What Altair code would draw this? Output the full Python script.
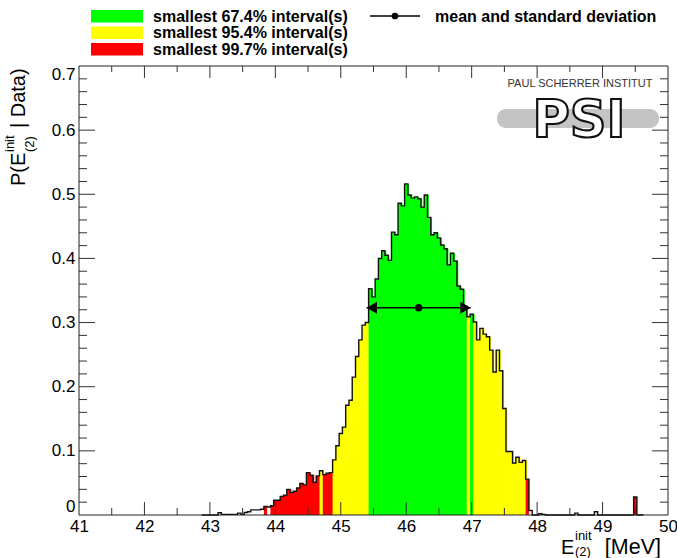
import altair as alt
import pandas as pd

FONT = "Liberation Sans"
INK = "#000000"
TICK_COLOR = "#333333"

# ---------------------------------------------------------------------------
# Marginalised posterior of E_init(2): density per 0.05 MeV bin,
# bin centres starting at 43.00 MeV
# ---------------------------------------------------------------------------
BIN_WIDTH = 0.05
FIRST_CENTER = 43.00
density = [
    0.000, 0.000, 0.000, 0.0035, 0.001, 0.001, 0.001, 0.001, 0.001, 0.003,    # 43.00-43.45
    0.001, 0.004, 0.005, 0.008, 0.008, 0.008, 0.009, 0.0135, 0.0125, 0.0145,  # 43.50-43.95
    0.023, 0.023, 0.029, 0.031, 0.040, 0.035, 0.037, 0.042, 0.049, 0.047,    # 44.00-44.45
    0.066, 0.062, 0.051, 0.061, 0.069, 0.063, 0.065, 0.066, 0.086, 0.108,    # 44.50-44.95
    0.127, 0.137, 0.171, 0.179, 0.215, 0.247, 0.273, 0.296, 0.300, 0.353,    # 45.00-45.45
    0.340, 0.368, 0.400, 0.412, 0.405, 0.397, 0.441, 0.437, 0.486, 0.482,    # 45.50-45.95
    0.516, 0.499, 0.494, 0.496, 0.493, 0.480, 0.499, 0.464, 0.437, 0.440,    # 46.00-46.45
    0.432, 0.421, 0.415, 0.390, 0.408, 0.396, 0.357, 0.352, 0.325, 0.309,    # 46.50-46.95
    0.313, 0.301, 0.273, 0.291, 0.282, 0.278, 0.257, 0.223, 0.257, 0.225,    # 47.00-47.45
    0.166, 0.099, 0.099, 0.081, 0.090, 0.082, 0.085, 0.056, 0.007, 0.000,    # 47.50-47.95
    0.000, 0.002, 0.001,                                                     # 48.00-48.10
]
# isolated entries further out in the upper tail
tail_centers = [48.60, 48.90, 49.50]
tail_density = [0.003, 0.005, 0.028]

# density levels that bound the smallest 67.4 / 95.4 / 99.7 % intervals
level_67 = 0.311
level_95 = 0.0675
level_99 = 0.013

interval_names = ["smallest 67.4% interval(s)", "smallest 95.4% interval(s)",
                  "smallest 99.7% interval(s)"]
interval_colors = ["#00ff00", "#ffff00", "#ff0000"]

# mean and standard deviation of the posterior
mean_E = 46.19
std_E = 0.795
arrow_level = 0.323

x_labels = [41, 42, 43, 44, 45, 46, 47, 48, 49, 50]
y_labels = [0.0, 0.1, 0.2, 0.3, 0.4, 0.5, 0.6, 0.7]

# ---------------------------------------------------------------------------
# Histogram table
# ---------------------------------------------------------------------------
lookup = {round(FIRST_CENTER + i * BIN_WIDTH, 2): v for i, v in enumerate(density)}
lookup.update(dict(zip(tail_centers, tail_density)))
n_grid = int(round((49.60 - 42.90) / BIN_WIDTH)) + 1
grid = [round(42.90 + i * BIN_WIDTH, 2) for i in range(n_grid)]

hist = pd.DataFrame({"center": grid})
hist["dens"] = [lookup.get(c, 0.0) for c in grid]
hist["lo"] = hist["center"] - BIN_WIDTH / 2
hist["hi"] = hist["center"] + BIN_WIDTH / 2


def interval_of(v):
    if v >= level_67:
        return interval_names[0]
    if v >= level_95:
        return interval_names[1]
    if v >= level_99:
        return interval_names[2]
    return "outside"


hist["interval"] = [interval_of(v) for v in hist["dens"]]
# a filled bin reaches slightly under its filled right neighbour (drawn
# afterwards), so the fill shows no anti-aliasing seams between bins
next_filled = list((hist["interval"] != "outside").iloc[1:]) + [False]
hist["hi_fill"] = [h + (0.02 if nf else 0.0) for h, nf in zip(hist["hi"], next_filled)]
filled = hist[hist["interval"] != "outside"]

outline = pd.DataFrame({
    "x": list(hist["lo"]) + [hist["hi"].iloc[-1]],
    "y": list(hist["dens"]) + [hist["dens"].iloc[-1]],
})

# ---------------------------------------------------------------------------
# Scales / axes shared by every data layer
# ---------------------------------------------------------------------------
W, H = 589, 449          # plot frame
OX, OY = 79, 66          # frame origin on the page

xs = alt.Scale(domain=[41, 50], nice=False, zero=False)
ys = alt.Scale(domain=[0, 0.7], nice=False)
xaxis = alt.Axis(values=x_labels, ticks=False, domain=False, grid=False, title=None,
                 labelFlush=False, labelPadding=3, labelFontSize=17)
yaxis = alt.Axis(values=y_labels, ticks=False, domain=False, grid=False, title=None,
                 format=".1~f", labelFlush=True, labelPadding=4, labelFontSize=17)


def X(field):
    return alt.X(field, type="quantitative", scale=xs, axis=xaxis)


def Y(field):
    return alt.Y(field, type="quantitative", scale=ys, axis=yaxis)


one = pd.DataFrame({"k": [0]})

color_scale = alt.Scale(domain=interval_names, range=interval_colors)

bars = alt.Chart(filled).mark_rect().encode(
    x=X("lo"), x2="hi_fill", y=Y("dens"), y2=alt.datum(0),
    color=alt.Color("interval:N", scale=color_scale, legend=None),
)

contour = alt.Chart(outline).mark_line(
    interpolate="step-after", color="#111111", strokeWidth=1.4
).encode(x=X("x"), y=Y("y"))

# mean +- standard deviation marker
msd = pd.DataFrame({"x": [mean_E - std_E, mean_E + std_E], "y": [arrow_level, arrow_level]})
msd_line = alt.Chart(msd).mark_line(color=INK, strokeWidth=1.5).encode(x=X("x"), y=Y("y"))
mean_dot = alt.Chart(pd.DataFrame({"x": [mean_E], "y": [arrow_level]})).mark_point(
    filled=True, size=55, color=INK, opacity=1).encode(x=X("x"), y=Y("y"))
arrow_l = alt.Chart(msd.iloc[[0]]).mark_point(
    shape="triangle-left", filled=True, size=144, xOffset=5.2, color=INK, opacity=1
).encode(x=X("x"), y=Y("y"))
arrow_r = alt.Chart(msd.iloc[[1]]).mark_point(
    shape="triangle-right", filled=True, size=144, xOffset=-5.2, color=INK, opacity=1
).encode(x=X("x"), y=Y("y"))

# inward ticks on all four sides of the frame
x_minor = [41.5 + i for i in range(9)]
x_major = [42 + i for i in range(8)]
y_minor = [round(0.02 * i, 2) for i in range(1, 35) if i % 5]
y_major = [0.1, 0.2, 0.3, 0.4, 0.5, 0.6]

tick_layers = []
for vals, length in ((x_major, 13), (x_minor, 7)):
    d = pd.DataFrame({"v": vals})
    tick_layers.append(alt.Chart(d).mark_rule(color=TICK_COLOR, strokeWidth=1).encode(
        x=X("v"), y=alt.value(H), y2=alt.value(H - length)))
    tick_layers.append(alt.Chart(d).mark_rule(color=TICK_COLOR, strokeWidth=1).encode(
        x=X("v"), y=alt.value(0), y2=alt.value(length - 1)))
for vals, length in ((y_major, 16), (y_minor, 8)):
    d = pd.DataFrame({"v": vals})
    tick_layers.append(alt.Chart(d).mark_rule(color=TICK_COLOR, strokeWidth=1).encode(
        y=Y("v"), x=alt.value(0), x2=alt.value(length)))
    tick_layers.append(alt.Chart(d).mark_rule(color=TICK_COLOR, strokeWidth=1).encode(
        y=Y("v"), x=alt.value(W), x2=alt.value(W - length)))

frame = alt.Chart(one).mark_rect(fillOpacity=0, stroke="#222222", strokeWidth=1).encode(
    x=alt.value(0), x2=alt.value(W), y=alt.value(0), y2=alt.value(H))


def note(text, sx, sy, size, **kw):
    """Text placed at page coordinates (sx, sy)."""
    props = dict(font=FONT, fontSize=size, color=INK)
    props.update(kw)
    return alt.Chart(pd.DataFrame({"t": [text]})).mark_text(**props).encode(
        x=alt.value(sx - OX), y=alt.value(sy - OY), text="t:N")


def box(sx0, sy0, sx1, sy1, **kw):
    return alt.Chart(one).mark_rect(**kw).encode(
        x=alt.value(sx0 - OX), x2=alt.value(sx1 - OX),
        y=alt.value(sy0 - OY), y2=alt.value(sy1 - OY))


# PSI logo in the upper right corner
logo = [
    note("PAUL SCHERRER INSTITUT", 580, 84, 11, color="#333333", align="center",
         baseline="middle"),
    box(497, 109, 659, 128, color="#c4c4c4", cornerRadius=9),
    note("PSI", 579, 137, 51, font="DejaVu Sans", fontWeight="bold", align="center",
         baseline="alphabetic", fill="white", stroke="#111111", strokeWidth=2.2),
]

# legend above the frame
legend = []
for i, (name, col) in enumerate(zip(interval_names, interval_colors)):
    top = 10 + 16.5 * i
    legend.append(box(91, top, 143, top + 12.5, color=col))
    legend.append(note(name, 153, top + 6.5, 16, fontWeight="bold", align="left",
                       baseline="middle"))
legend.append(alt.Chart(one).mark_rule(color=INK, strokeWidth=1.5).encode(
    x=alt.value(370 - OX), x2=alt.value(420 - OX), y=alt.value(16 - OY)))
legend.append(alt.Chart(one).mark_point(filled=True, size=45, color=INK, opacity=1).encode(
    x=alt.value(395 - OX), y=alt.value(16 - OY)))
legend.append(note("mean and standard deviation", 435, 16.5, 16, fontWeight="bold",
                   align="left", baseline="middle"))

# axis titles with super- and subscripts
titles = [
    note("P(E", 19, 186, 20, angle=270, align="left", baseline="middle"),
    note("init", 10, 152, 13, angle=270, align="left", baseline="middle"),
    note("(2)", 30, 152, 13, angle=270, align="left", baseline="middle"),
    note("| Data)", 19, 128, 20, angle=270, align="left", baseline="middle"),
    note("E", 561, 554, 20, align="left", baseline="alphabetic"),
    note("init", 575, 540, 13, align="left", baseline="alphabetic"),
    note("(2)", 575, 556, 13, align="left", baseline="alphabetic"),
    note("[MeV]", 661, 554, 21.5, align="right", baseline="alphabetic"),
]

chart = alt.layer(
    bars, contour, msd_line, arrow_l, arrow_r, mean_dot,
    *tick_layers, frame, *logo, *legend, *titles,
).properties(
    width=W, height=H,
    padding={"left": OX, "top": OY, "right": 677 - OX - W, "bottom": 558 - OY - H},
    autosize=alt.AutoSizeParams(type="none"),
    background="white",
).configure_view(stroke=None).configure_axis(
    labelFont=FONT, labelColor=INK, grid=False
)

chart.save("out.html", embed_options={"renderer": "svg", "actions": False})
